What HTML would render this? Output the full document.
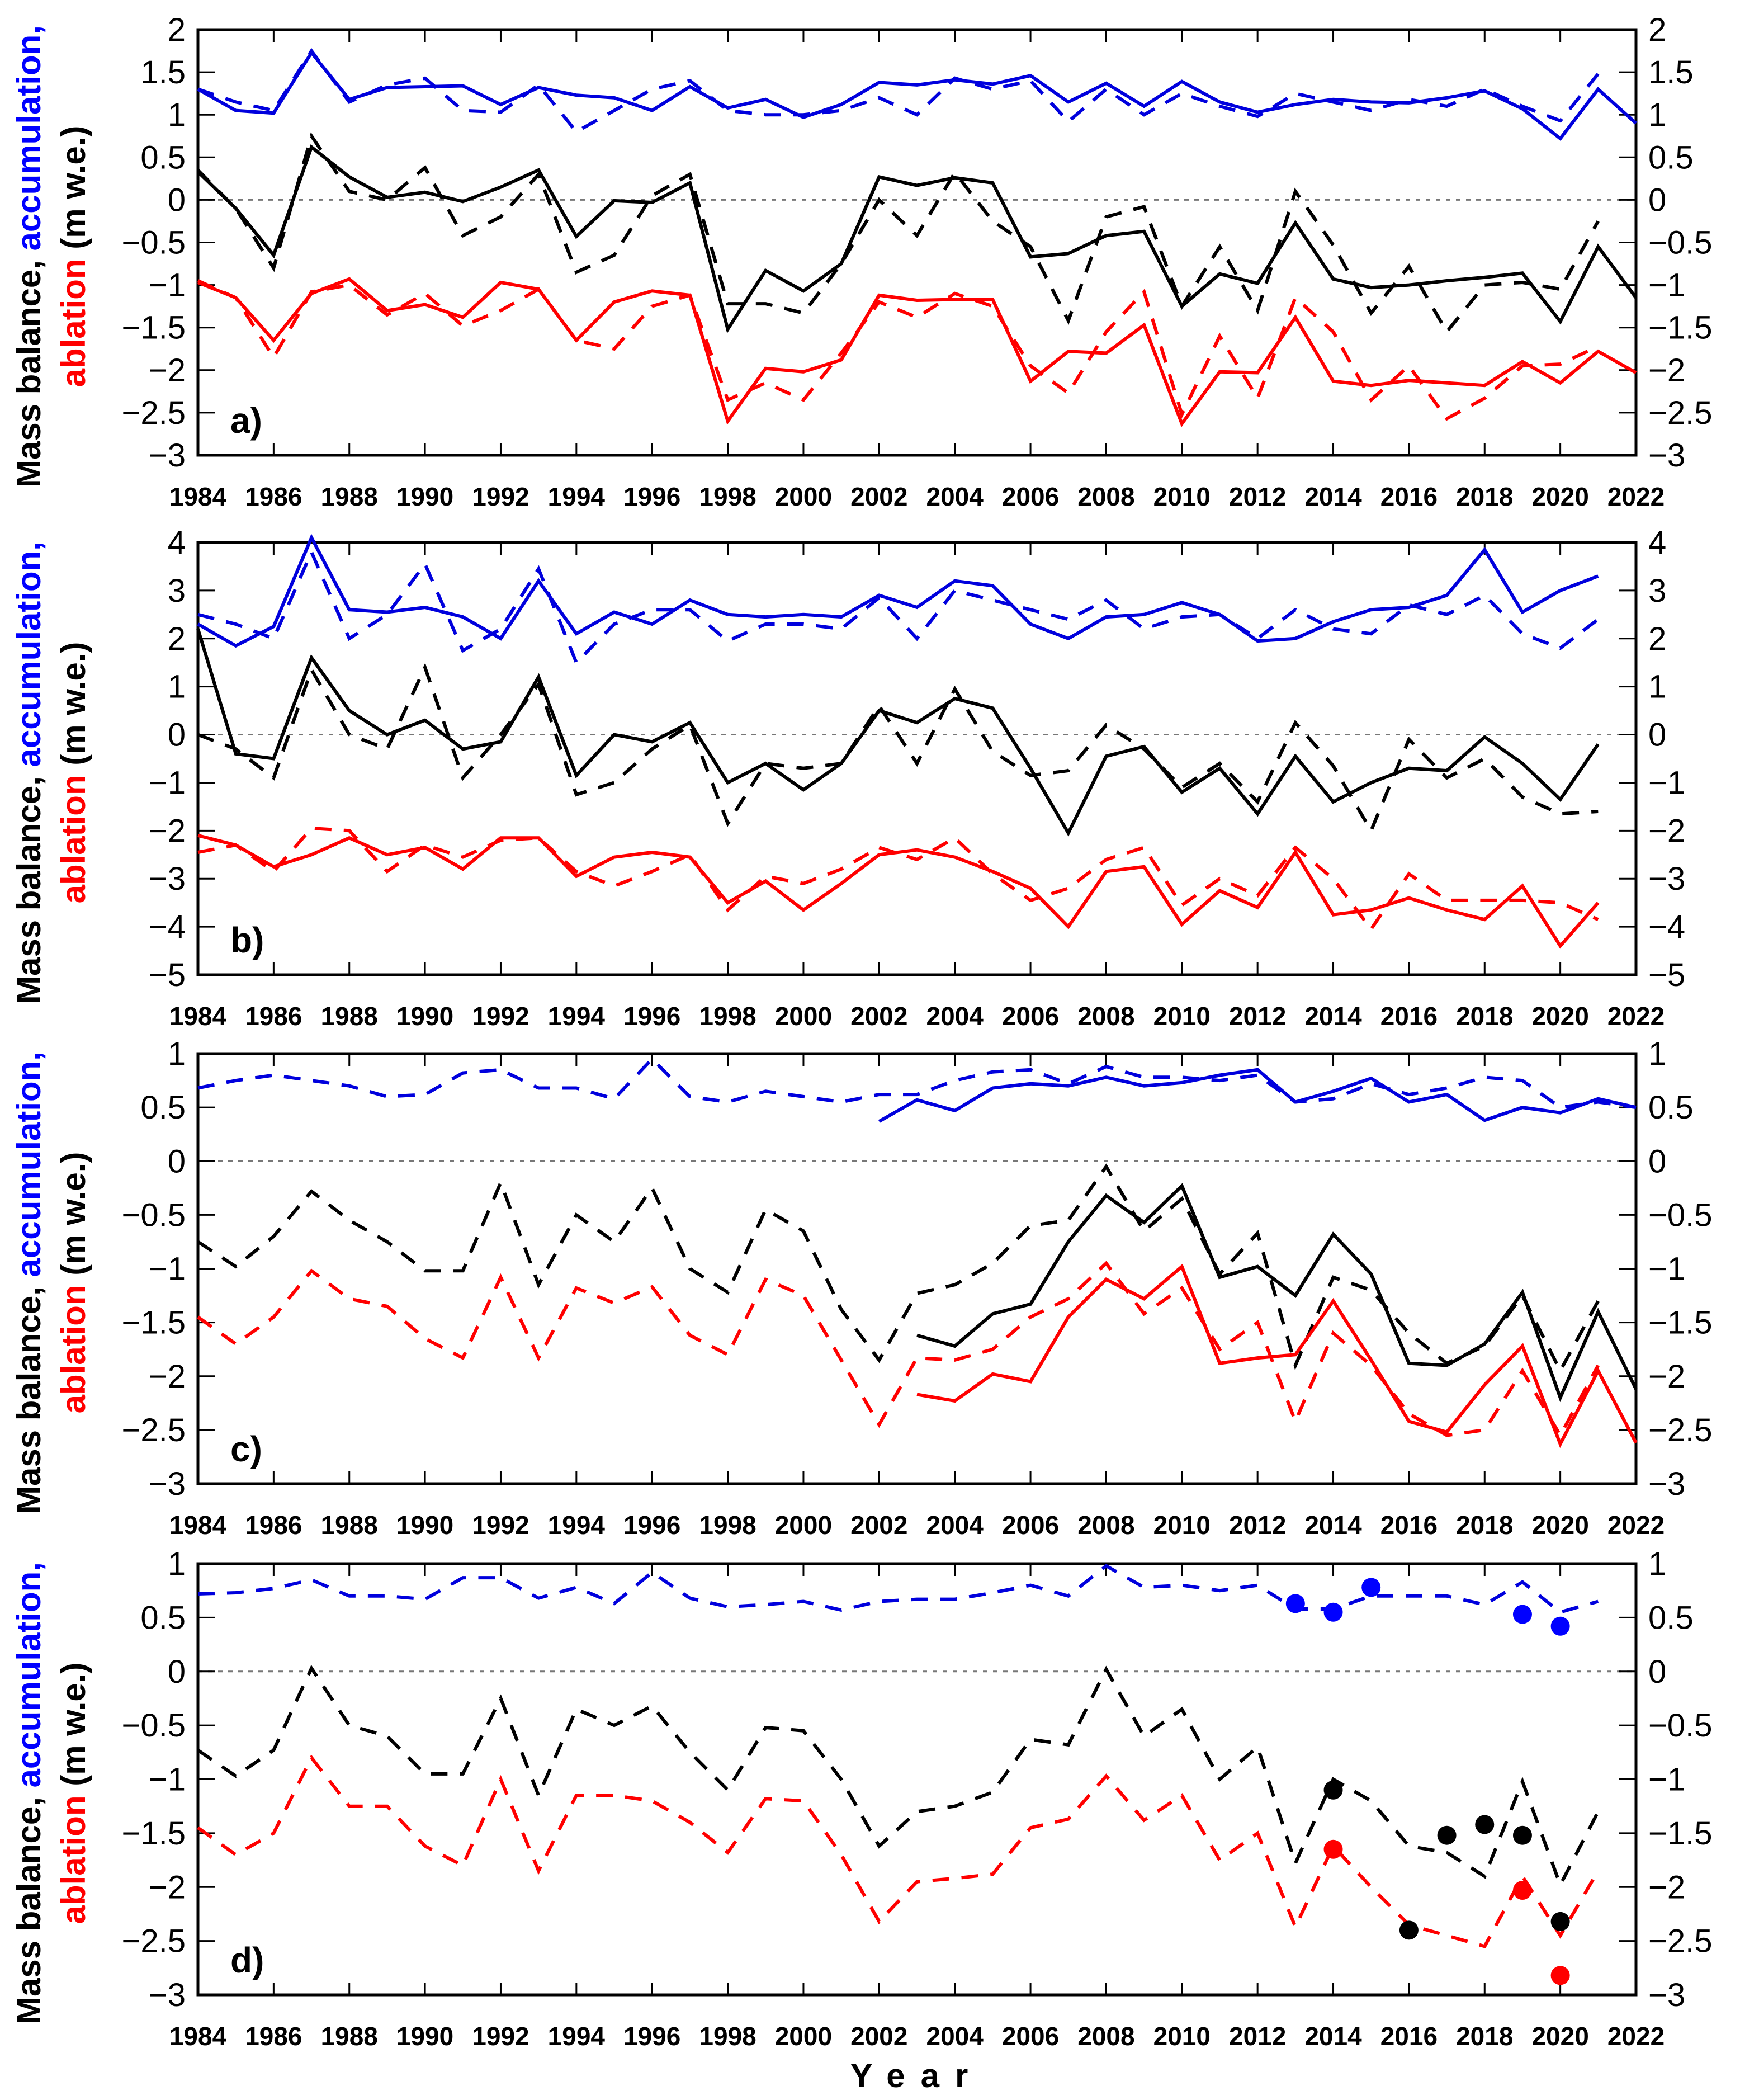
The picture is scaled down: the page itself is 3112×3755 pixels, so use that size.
<!DOCTYPE html>
<html><head><meta charset="utf-8">
<style>
html,body{margin:0;padding:0;background:#fff;}
svg{display:block;}
text{font-family:"Liberation Sans",sans-serif;}
</style></head>
<body>
<svg id="chart" width="3112" height="3755" viewBox="0 0 3112 3755" xmlns="http://www.w3.org/2000/svg">
<text x="1640" y="3732" font-size="60" font-weight="bold" letter-spacing="28" text-anchor="middle">Year</text>
</svg>
<script>
// ---- Panel a data ----
const yearsA = [1984,1985,1986,1987,1988,1989,1990,1991,1992,1993,1994,1995,1996,1997,1998,1999,2000,2001,2002,2003,2004,2005,2006,2007,2008,2009,2010,2011,2012,2013,2014,2015,2016,2017,2018,2019,2020,2021,2022];
const aBlueSolid = [1.3,1.05,1.02,1.73,1.18,1.32,1.33,1.34,1.12,1.32,1.23,1.2,1.05,1.33,1.08,1.18,0.97,1.12,1.38,1.35,1.41,1.36,1.46,1.15,1.37,1.1,1.39,1.15,1.03,1.12,1.18,1.15,1.14,1.2,1.28,1.07,0.72,1.3,0.9];
const aBlueDash = [1.3,1.15,1.05,1.75,1.15,1.35,1.43,1.05,1.03,1.35,0.8,1.05,1.3,1.4,1.05,1.0,1.0,1.05,1.2,1.0,1.43,1.3,1.4,0.92,1.3,1.0,1.25,1.1,0.98,1.25,1.15,1.05,1.18,1.1,1.3,1.1,0.93,1.48];
const aBlackSolid = [0.33,-0.1,-0.65,0.62,0.27,0.03,0.09,-0.02,0.15,0.35,-0.43,-0.01,-0.03,0.2,-1.52,-0.83,-1.07,-0.75,0.27,0.17,0.26,0.2,-0.67,-0.63,-0.42,-0.37,-1.25,-0.87,-0.98,-0.27,-0.93,-1.03,-1.0,-0.95,-0.91,-0.86,-1.43,-0.55,-1.15];
const aBlackDash = [0.35,-0.1,-0.8,0.75,0.1,0.0,0.38,-0.42,-0.2,0.3,-0.85,-0.65,0.05,0.3,-1.22,-1.22,-1.33,-0.75,0.0,-0.42,0.32,-0.25,-0.55,-1.42,-0.2,-0.08,-1.25,-0.55,-1.3,0.1,-0.53,-1.33,-0.78,-1.55,-1.0,-0.97,-1.05,-0.25];
const aRedSolid = [-0.97,-1.15,-1.65,-1.1,-0.93,-1.3,-1.23,-1.38,-0.97,-1.05,-1.65,-1.2,-1.07,-1.12,-2.6,-1.98,-2.02,-1.88,-1.12,-1.18,-1.17,-1.17,-2.13,-1.78,-1.8,-1.47,-2.63,-2.02,-2.03,-1.38,-2.13,-2.18,-2.12,-2.15,-2.18,-1.9,-2.15,-1.78,-2.03];
const aRedDash = [-0.95,-1.15,-1.85,-1.08,-1.0,-1.35,-1.1,-1.48,-1.3,-1.05,-1.65,-1.75,-1.25,-1.12,-2.35,-2.15,-2.35,-1.8,-1.2,-1.38,-1.1,-1.25,-1.95,-2.27,-1.55,-1.08,-2.52,-1.6,-2.33,-1.15,-1.55,-2.35,-1.95,-2.57,-2.33,-1.95,-1.93,-1.72];
const aTicks = [2,1.5,1,0.5,0,-0.5,-1,-1.5,-2,-2.5,-3];
// ---- Panel b data ----
const bBlueSolid = [2.3,1.85,2.25,4.1,2.6,2.55,2.65,2.45,2.0,3.2,2.1,2.55,2.3,2.8,2.5,2.45,2.5,2.45,2.9,2.65,3.2,3.1,2.3,2.0,2.45,2.5,2.75,2.5,1.95,2.0,2.35,2.6,2.65,2.9,3.85,2.55,3.0,3.3];
const bBlueDash = [2.5,2.3,2.0,3.8,2.0,2.5,3.55,1.75,2.2,3.45,1.5,2.3,2.6,2.6,1.95,2.3,2.3,2.2,2.85,2.0,3.0,2.8,2.6,2.4,2.8,2.2,2.45,2.5,2.0,2.6,2.2,2.1,2.7,2.5,2.9,2.1,1.8,2.4];
const bBlackSolid = [2.2,-0.4,-0.5,1.6,0.5,0.0,0.3,-0.3,-0.15,1.2,-0.85,0.0,-0.15,0.25,-1.0,-0.6,-1.15,-0.6,0.5,0.25,0.75,0.55,-0.7,-2.05,-0.45,-0.25,-1.2,-0.7,-1.65,-0.45,-1.4,-1.0,-0.7,-0.75,-0.05,-0.6,-1.35,-0.2];
const bBlackDash = [0.0,-0.3,-0.9,1.35,0.0,-0.3,1.4,-0.9,0.0,1.05,-1.25,-1.0,-0.3,0.2,-1.85,-0.6,-0.7,-0.6,0.6,-0.6,0.95,-0.35,-0.85,-0.75,0.2,-0.3,-1.1,-0.6,-1.4,0.25,-0.65,-2.0,-0.1,-0.9,-0.5,-1.3,-1.65,-1.6];
const bRedSolid = [-2.1,-2.3,-2.75,-2.5,-2.15,-2.5,-2.35,-2.8,-2.15,-2.15,-2.95,-2.55,-2.45,-2.55,-3.5,-3.05,-3.65,-3.1,-2.5,-2.4,-2.55,-2.85,-3.2,-4.0,-2.85,-2.75,-3.95,-3.25,-3.6,-2.45,-3.75,-3.65,-3.4,-3.65,-3.85,-3.15,-4.4,-3.5];
const bRedDash = [-2.45,-2.3,-2.85,-1.95,-2.0,-2.85,-2.3,-2.55,-2.2,-2.15,-2.85,-3.15,-2.85,-2.5,-3.65,-2.95,-3.1,-2.8,-2.35,-2.6,-2.15,-2.9,-3.45,-3.2,-2.6,-2.35,-3.55,-3.0,-3.35,-2.35,-3.0,-4.05,-2.9,-3.45,-3.45,-3.45,-3.5,-3.85];
const bTicks = [4,3,2,1,0,-1,-2,-3,-4,-5];
// ---- Panel c data ----
const cBlueDash = [0.68,0.75,0.8,0.75,0.7,0.6,0.62,0.82,0.85,0.68,0.68,0.58,0.95,0.6,0.55,0.65,0.6,0.55,0.62,0.62,0.75,0.83,0.85,0.72,0.88,0.78,0.78,0.75,0.8,0.55,0.58,0.72,0.62,0.68,0.78,0.75,0.5,0.55,0.5];
const cBlueSolid = [0.37,0.57,0.47,0.68,0.72,0.7,0.78,0.7,0.73,0.8,0.85,0.55,0.65,0.77,0.55,0.62,0.38,0.5,0.45,0.58,0.5];
const cBlackDash = [-0.75,-0.98,-0.7,-0.28,-0.55,-0.75,-1.02,-1.02,-0.2,-1.15,-0.5,-0.75,-0.25,-1.0,-1.22,-0.45,-0.65,-1.38,-1.85,-1.23,-1.15,-0.95,-0.6,-0.55,-0.05,-0.65,-0.35,-1.05,-0.67,-1.9,-1.08,-1.2,-1.6,-1.88,-1.72,-1.25,-1.95,-1.3];
const cBlackSolid = [-1.62,-1.72,-1.42,-1.33,-0.75,-0.32,-0.57,-0.23,-1.08,-0.98,-1.25,-0.68,-1.05,-1.88,-1.9,-1.7,-1.22,-2.2,-1.4,-2.12];
const cRedDash = [-1.45,-1.7,-1.45,-1.02,-1.28,-1.35,-1.65,-1.83,-1.08,-1.83,-1.18,-1.32,-1.17,-1.62,-1.8,-1.1,-1.25,-1.85,-2.45,-1.83,-1.85,-1.75,-1.45,-1.28,-0.95,-1.42,-1.18,-1.75,-1.5,-2.42,-1.6,-1.9,-2.35,-2.55,-2.5,-1.95,-2.55,-1.9];
const cRedSolid = [-2.17,-2.23,-1.98,-2.05,-1.45,-1.1,-1.28,-0.98,-1.88,-1.83,-1.8,-1.3,-1.85,-2.42,-2.52,-2.08,-1.72,-2.63,-1.95,-2.62];
const cdTicks = [1,0.5,0,-0.5,-1,-1.5,-2,-2.5,-3];
// ---- Panel d data ----
const dBlueDash = [0.72,0.73,0.77,0.85,0.7,0.7,0.67,0.87,0.87,0.68,0.78,0.63,0.92,0.68,0.6,0.62,0.65,0.57,0.65,0.67,0.67,0.73,0.8,0.7,0.98,0.78,0.8,0.75,0.8,0.58,0.58,0.7,0.7,0.7,0.62,0.83,0.55,0.65];
const dBlackDash = [-0.73,-0.97,-0.73,0.03,-0.5,-0.6,-0.95,-0.95,-0.25,-1.15,-0.35,-0.5,-0.32,-0.75,-1.1,-0.52,-0.55,-1.0,-1.62,-1.3,-1.25,-1.12,-0.63,-0.68,0.02,-0.6,-0.35,-1.0,-0.7,-1.78,-1.0,-1.2,-1.62,-1.68,-1.9,-1.02,-1.98,-1.3];
const dRedDash = [-1.45,-1.7,-1.5,-0.8,-1.25,-1.25,-1.62,-1.8,-1.0,-1.85,-1.15,-1.15,-1.2,-1.4,-1.68,-1.18,-1.2,-1.7,-2.32,-1.95,-1.92,-1.88,-1.45,-1.37,-0.97,-1.38,-1.15,-1.75,-1.5,-2.37,-1.62,-2.0,-2.35,-2.45,-2.55,-1.9,-2.45,-1.85];
const dBlueDotYears = [2013,2014,2015,2019,2020];
const dBlueDotVals = [0.63,0.55,0.78,0.53,0.42];
const dBlackDotYears = [2014,2016,2017,2018,2019,2020];
const dBlackDotVals = [-1.1,-2.4,-1.52,-1.42,-1.52,-2.32];
const dRedDotYears = [2014,2019,2020];
const dRedDotVals = [-1.65,-2.03,-2.82];
const xTickYears = [1984,1986,1988,1990,1992,1994,1996,1998,2000,2002,2004,2006,2008,2010,2012,2014,2016,2018,2020,2022];

const NS = 'http://www.w3.org/2000/svg';
const svg = document.getElementById('chart');
const L = 354, R = 2926;
function mk(tag, attrs, parent){ const e = document.createElementNS(NS, tag); for (const k in attrs) e.setAttribute(k, attrs[k]); parent.appendChild(e); return e; }
function fmt(v){ return (v < 0 ? '\u2212' : '') + String(Math.abs(v)); }

function title(g, cy){
  const t1 = mk('text', {transform:'translate(72,'+cy+') rotate(-90)', 'text-anchor':'middle', 'font-size':60, 'font-weight':'bold'}, g);
  
  
  const s1 = mk('tspan', {fill:'#000'}, t1); s1.textContent = 'Mass balance, ';
  const s2 = mk('tspan', {fill:'#0000ff'}, t1); s2.textContent = 'accumulation,';
  const t2 = mk('text', {transform:'translate(152,'+cy+') rotate(-90)', 'text-anchor':'middle', 'font-size':60, 'font-weight':'bold'}, g);
  
  
  const s3 = mk('tspan', {fill:'#ff0000'}, t2); s3.textContent = 'ablation';
  const s4 = mk('tspan', {fill:'#000'}, t2); s4.textContent = ' (m w.e.)';
}

function panel(id, top, bot, ymax, ymin, ticks, label){
  const g = mk('g', {}, svg);
  
  
  const xs = y => L + (y - 1984) * (R - L) / 38;
  const ys = v => top + (ymax - v) * (bot - top) / (ymax - ymin);
  title(g, (top + bot) / 2 + 25);
  const z = mk('line', {x1:L, x2:R, y1:ys(0), y2:ys(0), stroke:'#777', 'stroke-width':3, 'stroke-dasharray':'8 10'}, g);
  
  
  ticks.forEach(t => {
    const y = ys(t);
    mk('line', {x1:L, x2:L+30, y1:y, y2:y, stroke:'#000', 'stroke-width':3}, g);
    mk('line', {x1:R-30, x2:R, y1:y, y2:y, stroke:'#000', 'stroke-width':3}, g);
    const tl = mk('text', {x:L-22, y:y+20, 'font-size':58, 'text-anchor':'end'}, g);
    tl.textContent = fmt(t);
    
    
    const tr = mk('text', {x:R+22, y:y+20, 'font-size':58, 'text-anchor':'start'}, g);
    tr.textContent = fmt(t);
    
    
  });
  xTickYears.forEach(yr => {
    const x = xs(yr);
    mk('line', {x1:x, x2:x, y1:top, y2:top+22, stroke:'#000', 'stroke-width':3}, g);
    mk('line', {x1:x, x2:x, y1:bot-22, y2:bot, stroke:'#000', 'stroke-width':3}, g);
    const t = mk('text', {x:x, y:bot+90, 'font-size':46, 'font-weight':'bold', 'text-anchor':'middle'}, g);
    t.textContent = yr;
    
    
  });
  const fr = mk('rect', {x:L, y:top, width:R-L, height:bot-top, fill:'none', stroke:'#000', 'stroke-width':5}, g);
  
  
  const pl = mk('text', {x:412, y:bot-40, 'font-size':64, 'font-weight':'bold'}, g);
  pl.textContent = label;
  
  
  return {g, xs, ys};
}

function series(p, startYear, vals, color, dashed, name){
  const pts = vals.map((v,i) => p.xs(startYear + i).toFixed(1) + ',' + p.ys(v).toFixed(1)).join(' ');
  const pl = mk('polyline', {points:pts, fill:'none', stroke:color, 'stroke-width':6, 'stroke-linejoin':'miter'}, p.g);
  if (dashed) pl.setAttribute('stroke-dasharray', '30 22');
  
  
}
function dots(p, years, vals, color, name){
  years.forEach((yr,i) => {
    const c = mk('circle', {cx:p.xs(yr), cy:p.ys(vals[i]), r:17, fill:color}, p.g);
    
    
  });
}

const pa = panel('a', 53, 814, 2, -3, aTicks, 'a)');
series(pa, 1984, aBlueDash, '#0000dd', true, 'accumulation-dashed');
series(pa, 1984, aBlueSolid, '#0000dd', false, 'accumulation-solid');
series(pa, 1984, aBlackDash, '#000', true, 'mass-balance-dashed');
series(pa, 1984, aBlackSolid, '#000', false, 'mass-balance-solid');
series(pa, 1984, aRedDash, '#ff0000', true, 'ablation-dashed');
series(pa, 1984, aRedSolid, '#ff0000', false, 'ablation-solid');

const pb = panel('b', 970, 1743, 4, -5, bTicks, 'b)');
series(pb, 1984, bBlueDash, '#0000dd', true, 'accumulation-dashed');
series(pb, 1984, bBlueSolid, '#0000dd', false, 'accumulation-solid');
series(pb, 1984, bBlackDash, '#000', true, 'mass-balance-dashed');
series(pb, 1984, bBlackSolid, '#000', false, 'mass-balance-solid');
series(pb, 1984, bRedDash, '#ff0000', true, 'ablation-dashed');
series(pb, 1984, bRedSolid, '#ff0000', false, 'ablation-solid');

const pc = panel('c', 1884, 2653, 1, -3, cdTicks, 'c)');
series(pc, 1984, cBlueDash, '#0000dd', true, 'accumulation-dashed');
series(pc, 2002, cBlueSolid, '#0000dd', false, 'accumulation-solid');
series(pc, 1984, cBlackDash, '#000', true, 'mass-balance-dashed');
series(pc, 2003, cBlackSolid, '#000', false, 'mass-balance-solid');
series(pc, 1984, cRedDash, '#ff0000', true, 'ablation-dashed');
series(pc, 2003, cRedSolid, '#ff0000', false, 'ablation-solid');

const pd = panel('d', 2796, 3567, 1, -3, cdTicks, 'd)');
series(pd, 1984, dBlueDash, '#0000dd', true, 'accumulation-dashed');
series(pd, 1984, dBlackDash, '#000', true, 'mass-balance-dashed');
series(pd, 1984, dRedDash, '#ff0000', true, 'ablation-dashed');
dots(pd, dBlueDotYears, dBlueDotVals, '#0000ff', 'accumulation-point');
dots(pd, dBlackDotYears, dBlackDotVals, '#000', 'mass-balance-point');
dots(pd, dRedDotYears, dRedDotVals, '#ff0000', 'ablation-point');
</script>
</body></html>
